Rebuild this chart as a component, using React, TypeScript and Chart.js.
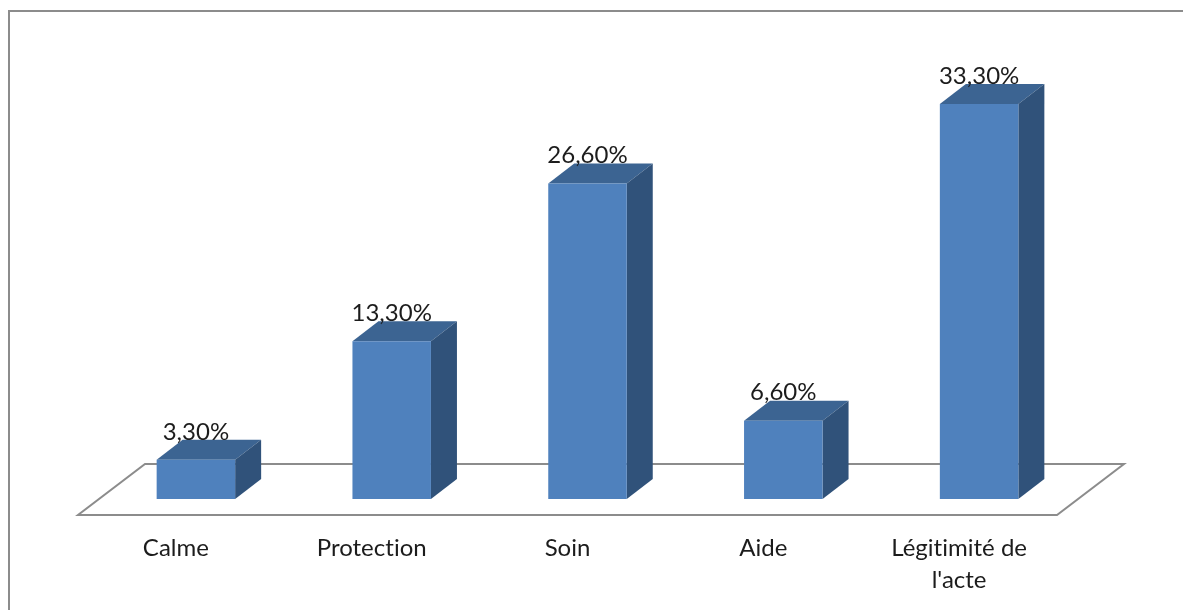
import React, { useEffect, useRef } from "react";
import { Chart, registerables } from "chart.js";

Chart.register(...registerables);

const categories: (string | string[])[] = ["Calme", "Protection", "Soin", "Aide", ["Légitimité de", "l'acte"]];
const percentages = [3.3, 13.3, 26.6, 6.6, 33.3];

const FRONT = "#4f81bd";
const TOP = "#3c6492";
const SIDE = "#30527a";
const LINE = "#8c8c8c";
const INK = "#1c1c1c";
const FONT = "Lato, Carlito, Calibri, sans-serif";
const FONT_SIZE = 24;

// Extrusion of each column and its shift on the floor, in canvas pixels.
const DEPTH_X = 26;
const DEPTH_Y = 20;
const SHIFT_X = 20;
const FLOOR_DX = 67;
const FLOOR_DY = 51;

const formatPercent = (v: number) => v.toFixed(2).replace(".", ",") + "%";

const polygon = (ctx: CanvasRenderingContext2D, pts: number[][], fill: string) => {
  ctx.beginPath();
  pts.forEach(([x, y], i) => (i ? ctx.lineTo(x, y) : ctx.moveTo(x, y)));
  ctx.closePath();
  ctx.fillStyle = fill;
  ctx.fill();
};

const framePlugin = {
  id: "frame",
  beforeDraw(chart: any) {
    const { ctx, width, height } = chart;
    // A tiny letter spacing keeps the "ti" pairs as separate glyphs.
    ctx.letterSpacing = "0.01px";
    ctx.save();
    ctx.fillStyle = "#ffffff";
    ctx.fillRect(0, 0, width, height);
    ctx.strokeStyle = LINE;
    ctx.lineWidth = 2;
    ctx.beginPath();
    ctx.moveTo(9, height);
    ctx.lineTo(9, 11);
    ctx.lineTo(width, 11);
    ctx.stroke();
    ctx.restore();
  },
};

const floorAndColumns = {
  id: "floorAndColumns",
  beforeDatasetsDraw(chart: any) {
    const { ctx, chartArea } = chart;
    const { left, right, bottom } = chartArea;
    ctx.save();
    ctx.strokeStyle = LINE;
    ctx.lineWidth = 2;
    ctx.lineJoin = "miter";
    ctx.beginPath();
    ctx.moveTo(left, bottom);
    ctx.lineTo(right, bottom);
    ctx.lineTo(right + FLOOR_DX, bottom - FLOOR_DY);
    ctx.lineTo(left + FLOOR_DX, bottom - FLOOR_DY);
    ctx.closePath();
    ctx.stroke();
    ctx.restore();

    // Columns stand slightly back on the floor: the shift stays active for the bars.
    ctx.save();
    ctx.translate(SHIFT_X, 0);
    chart.getDatasetMeta(0).data.forEach((bar: any) => {
      const l = bar.x - bar.width / 2;
      const r = bar.x + bar.width / 2;
      polygon(ctx, [[l, bar.y], [r, bar.y], [r + DEPTH_X, bar.y - DEPTH_Y], [l + DEPTH_X, bar.y - DEPTH_Y]], TOP);
      polygon(ctx, [[r, bar.y], [r + DEPTH_X, bar.y - DEPTH_Y], [r + DEPTH_X, bar.base - DEPTH_Y], [r, bar.base]], SIDE);
    });
  },
  afterDatasetsDraw(chart: any) {
    const { ctx } = chart;
    ctx.restore();
    ctx.save();
    ctx.font = `${FONT_SIZE}px ${FONT}`;
    ctx.fillStyle = INK;
    ctx.textAlign = "center";
    ctx.textBaseline = "middle";
    chart.getDatasetMeta(0).data.forEach((bar: any, i: number) => {
      ctx.fillText(formatPercent(percentages[i]), bar.x + SHIFT_X, bar.y - 28);
    });
    ctx.restore();
  },
};

export default function App() {
  const canvasRef = useRef<HTMLCanvasElement>(null);

  useEffect(() => {
    const chart = new Chart(canvasRef.current!, {
      type: "bar",
      data: {
        labels: categories,
        datasets: [
          {
            data: percentages,
            backgroundColor: FRONT,
            borderWidth: 0,
            barPercentage: 1,
            categoryPercentage: 78.5 / 195.8,
            clip: false,
          } as any,
        ],
      },
      plugins: [framePlugin, floorAndColumns],
      options: {
        responsive: false,
        animation: false,
        layout: { padding: { left: 78, right: 126, top: 0, bottom: 0 } },
        plugins: { legend: { display: false }, tooltip: { enabled: false } },
        scales: {
          x: {
            afterFit(scale: any) {
              scale.height = 95;
            },
            grid: { display: false },
            border: { display: false },
            ticks: {
              autoSkip: false,
              maxRotation: 0,
              minRotation: 0,
              padding: 10,
              color: INK,
              font: { family: FONT, size: FONT_SIZE, lineHeight: 1.3 },
            },
          },
          y: { display: false, min: -1.35, max: 42.07 },
        },
      },
    });
    return () => chart.destroy();
  }, []);

  return (
    <div style={{ position: "absolute", left: 0, top: 0, width: 1183, height: 610, overflow: "hidden", background: "#fff" }}>
      <canvas ref={canvasRef} width={1183} height={610} style={{ display: "block" }} />
    </div>
  );
}
